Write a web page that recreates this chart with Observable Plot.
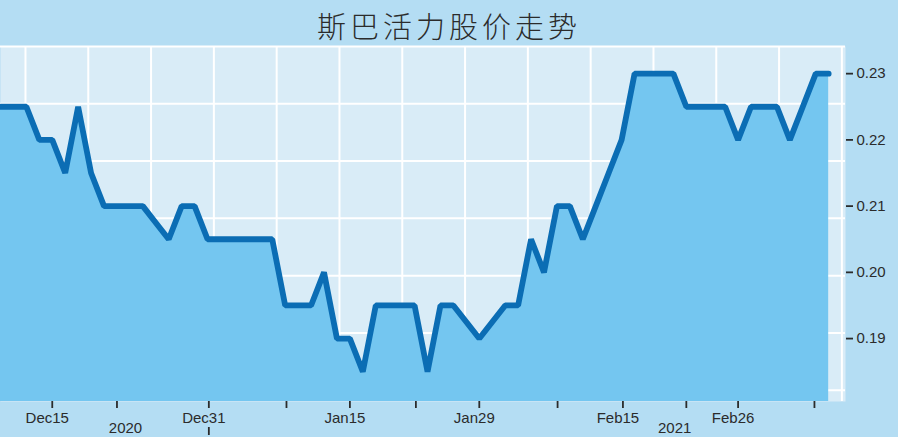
<!DOCTYPE html>
<html><head><meta charset="utf-8">
<script src="https://cdn.jsdelivr.net/npm/d3@7"></script>
<script src="https://cdn.jsdelivr.net/npm/@observablehq/plot@0.6"></script>
<style>
html,body{margin:0;padding:0;background:#b4ddf3;width:898px;height:437px;overflow:hidden}
#title{height:46px;line-height:50px;text-align:center;font-family:"Noto Sans CJK SC",sans-serif;font-weight:300;font-size:29px;letter-spacing:4px;color:#2b2b2b}
#chart svg{display:block;overflow:visible}
</style></head><body>
<div id="title">斯巴活力股价走势</div>
<div id="chart"></div>
<script>
// closing price per trading day (index = trading day)
const price = [
  0.225, 0.225, 0.225, 0.22, 0.22, 0.215, 0.225, 0.215, 0.21, 0.21,
  0.21, 0.21, 0.2075, 0.205, 0.21, 0.21, 0.205, 0.205, 0.205, 0.205,
  0.205, 0.205, 0.195, 0.195, 0.195, 0.20, 0.19, 0.19, 0.185, 0.195,
  0.195, 0.195, 0.195, 0.185, 0.195, 0.195, 0.1925, 0.19, 0.1925, 0.195,
  0.195, 0.205, 0.20, 0.21, 0.21, 0.205, 0.21, 0.215, 0.22, 0.23,
  0.23, 0.23, 0.23, 0.225, 0.225, 0.225, 0.225, 0.22, 0.225, 0.225,
  0.225, 0.22, 0.225, 0.23, 0.23
];
const tickIdx    = [4, 9, 16.1, 22.1, 27, 32.1, 37, 43.05, 48.1, 53, 57, 62.9];
const tickLabels = ["Dec15", "", "Dec31", "", "Jan15", "", "Jan29", "", "Feb15", "", "Feb26", ""];
const yearPos    = [9.66, 52.1];
const yearLabels = ["2020", "2021"];
const yearMarkIdx = [16.1];
const yTicks = [0.19, 0.20, 0.21, 0.22, 0.23];

const xMax = 65.3, yMin = 0.1805, yMax = 0.2341;
const gridStepX = 4.853, gridStartX = 1.93, gridStepY = 0.00865;
const gridX = d3.range(0, 14).map(k => gridStartX + gridStepX * k);
const gridY = d3.range(0, 7).map(k => yMax - gridStepY * k);

const data = price.map((p, i) => ({i, p}));

const chart = Plot.plot({
  width: 898, height: 391,
  marginTop: 0, marginLeft: 0, marginRight: 53, marginBottom: 36,
  style: {fontFamily: "'Liberation Sans', Arial, sans-serif", fontSize: "15px", color: "#2b2b2b", background: "transparent"},
  x: {domain: [0, xMax], label: null},
  y: {domain: [yMin, yMax], label: null},
  marks: [
    Plot.frame({fill: "#d9ecf7", stroke: null}),
    Plot.ruleX(gridX, {stroke: "#ffffff", strokeWidth: 2}),
    Plot.ruleY(gridY, {stroke: "#ffffff", strokeWidth: 2}),
    Plot.areaY(data, {x: "i", y1: yMin, y2: "p", fill: "#74c6f0"}),
    Plot.lineY(data, {x: "i", y: "p", stroke: "#0b6db4", strokeWidth: 5.8, strokeLinejoin: "miter", strokeLinecap: "round"}),
    Plot.axisY({anchor: "right", label: null, ticks: yTicks, tickFormat: d3.format(".2f"), tickSize: 7, tickPadding: 4, strokeWidth: 1.8, fontSize: 15, stroke: "#2b2b2b", fill: "#2b2b2b"}),
    Plot.axisX({ticks: tickIdx, label: null, text: null, tickSize: 7, strokeWidth: 1.8, stroke: "#2b2b2b"}),
    Plot.axisX({ticks: tickIdx, label: null, tickSize: 0, tickPadding: 11, dx: -5, fontSize: 15, fill: "#2b2b2b",
      tickFormat: d => tickLabels[tickIdx.indexOf(d)]}),
    Plot.text(yearLabels, {x: (d, i) => yearPos[i], text: d => d, frameAnchor: "bottom", dy: 27, lineAnchor: "middle", fontSize: 15, fill: "#2b2b2b"}),
    Plot.ruleX(yearMarkIdx, {insetTop: 381, insetBottom: -34, stroke: "#2b2b2b", strokeWidth: 1.8})
  ]
});
document.getElementById("chart").appendChild(chart);
</script>
</body></html>
